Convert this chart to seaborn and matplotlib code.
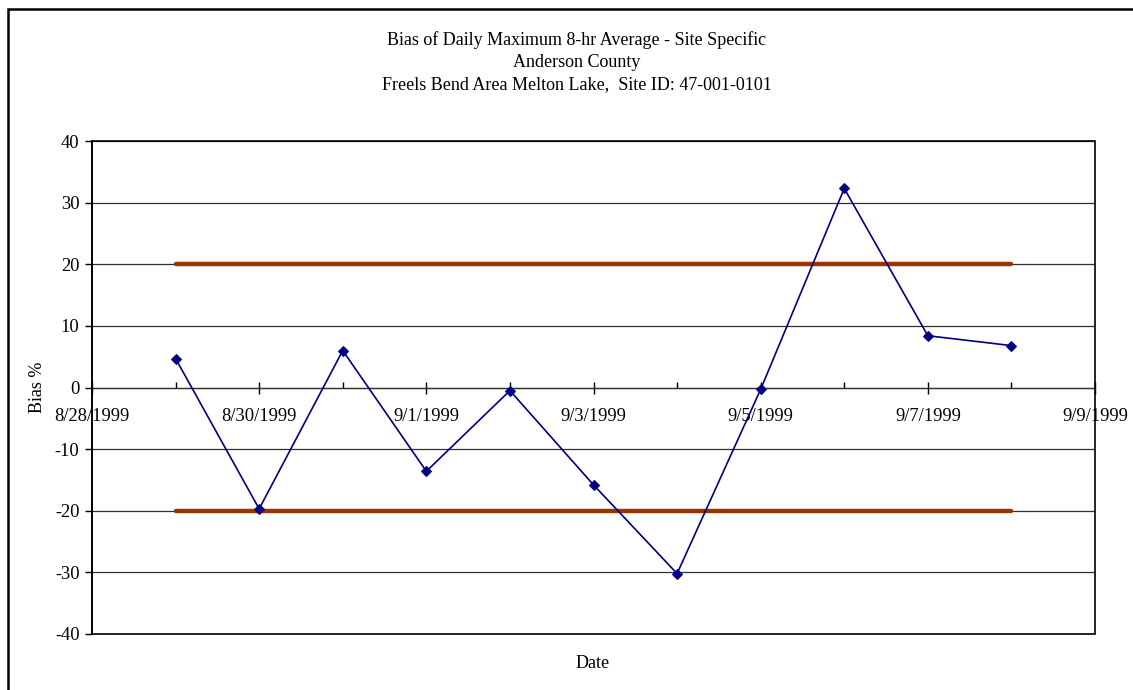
import matplotlib
matplotlib.use("Agg")
import matplotlib.pyplot as plt
import matplotlib.dates as mdates
from matplotlib.patches import Rectangle
from matplotlib.ticker import FuncFormatter
import pandas as pd
import seaborn as sns

# Daily bias values (%)
dates = ["1999-08-29", "1999-08-30", "1999-08-31", "1999-09-01", "1999-09-02",
         "1999-09-03", "1999-09-04", "1999-09-05", "1999-09-06", "1999-09-07",
         "1999-09-08"]
bias = [4.7, -19.7, 6.0, -13.6, -0.5, -15.8, -30.2, -0.3, 32.3, 8.4, 6.8]

# Acceptance limits (+/- 20 %)
limit_dates = ["1999-08-29", "1999-09-08"]
upper_limit = [20, 20]
lower_limit = [-20, -20]

title_lines = ["Bias of Daily Maximum 8-hr Average - Site Specific",
               "Anderson County",
               "Freels Bend Area Melton Lake,  Site ID: 47-001-0101"]
y_ticks = [-40, -30, -20, -10, 0, 10, 20, 30, 40]

df = pd.DataFrame({"Date": pd.to_datetime(dates), "Bias": bias})
lim = pd.DataFrame({"Date": pd.to_datetime(limit_dates),
                    "Upper": upper_limit, "Lower": lower_limit})

sns.set_theme(style="white")
plt.rcParams["font.family"] = ["Liberation Serif", "DejaVu Serif"]
plt.rcParams["text.color"] = "black"
plt.rcParams["xtick.labelcolor"] = "black"
plt.rcParams["ytick.labelcolor"] = "black"

fig = plt.figure(figsize=(11.33, 6.9), dpi=100)
ax = fig.add_axes([92 / 1133, 1 - 634 / 690, (1095 - 92) / 1133, (634 - 141) / 690])

# Grid lines
for yv in y_ticks:
    ax.axhline(yv, color="#303030", lw=0.9, zorder=0)

sns.lineplot(data=lim, x="Date", y="Upper", ax=ax, color="#993300", lw=3.2,
             solid_capstyle="round", zorder=2)
sns.lineplot(data=lim, x="Date", y="Lower", ax=ax, color="#993300", lw=3.2,
             solid_capstyle="round", zorder=2)
sns.lineplot(data=df, x="Date", y="Bias", ax=ax, color="#000080", lw=1.2,
             marker="D", markersize=5.5, markeredgecolor="#000080", zorder=3)

ax.set_xlim(pd.Timestamp("1999-08-28"), pd.Timestamp("1999-09-09"))
ax.set_ylim(-40, 40)
ax.set_yticks(y_ticks)
ax.set_yticklabels([str(v) for v in y_ticks])

ax.set_xticks(pd.date_range("1999-08-28", "1999-09-09", freq="2D"))
ax.set_xticks(pd.date_range("1999-08-28", "1999-09-09", freq="1D"), minor=True)
ax.xaxis.set_major_formatter(FuncFormatter(
    lambda v, p: (lambda d: f"{d.month}/{d.day}/{d.year}")(mdates.num2date(v))))

ax.set_xlabel("")
ax.set_ylabel("")

for s in ["top", "right"]:
    ax.spines[s].set_visible(False)
ax.spines["bottom"].set_position(("data", 0))
ax.spines["bottom"].set_color("#303030")
ax.spines["bottom"].set_linewidth(0.9)
ax.spines["left"].set_color("black")
ax.spines["left"].set_linewidth(1.2)
ax.add_patch(Rectangle((0, 0), 1, 1, transform=ax.transAxes, fill=False,
                       ec="black", lw=1.2, zorder=4, clip_on=False))

ax.tick_params(axis="x", which="major", direction="inout", length=9, width=1,
               color="black", labelsize=13.3, pad=10, bottom=True)
ax.tick_params(axis="x", which="minor", direction="in", length=4, width=1,
               color="black", bottom=True)
ax.tick_params(axis="y", which="major", direction="out", length=5, width=1,
               color="black", labelsize=13.3, pad=4, left=True)

# Titles and axis labels
for i, line in enumerate(title_lines):
    fig.text(577 / 1133, 1 - (40 + i * 22.5) / 690, line, ha="center",
             va="center", fontsize=13)
fig.text(37 / 1133, 1 - 387 / 690, "Bias %", rotation=90, ha="center",
         va="center", fontsize=13)
fig.text(593 / 1133, 1 - 664 / 690, "Date", ha="center", va="center",
         fontsize=13)

# Chart-area border
fig.patches.append(Rectangle((8 / 1133, -0.05), 1.1, 1 - 9 / 690 + 0.05,
                             transform=fig.transFigure, fill=False,
                             ec="black", lw=1.8, zorder=0))

fig.savefig("out.png", dpi=100)
